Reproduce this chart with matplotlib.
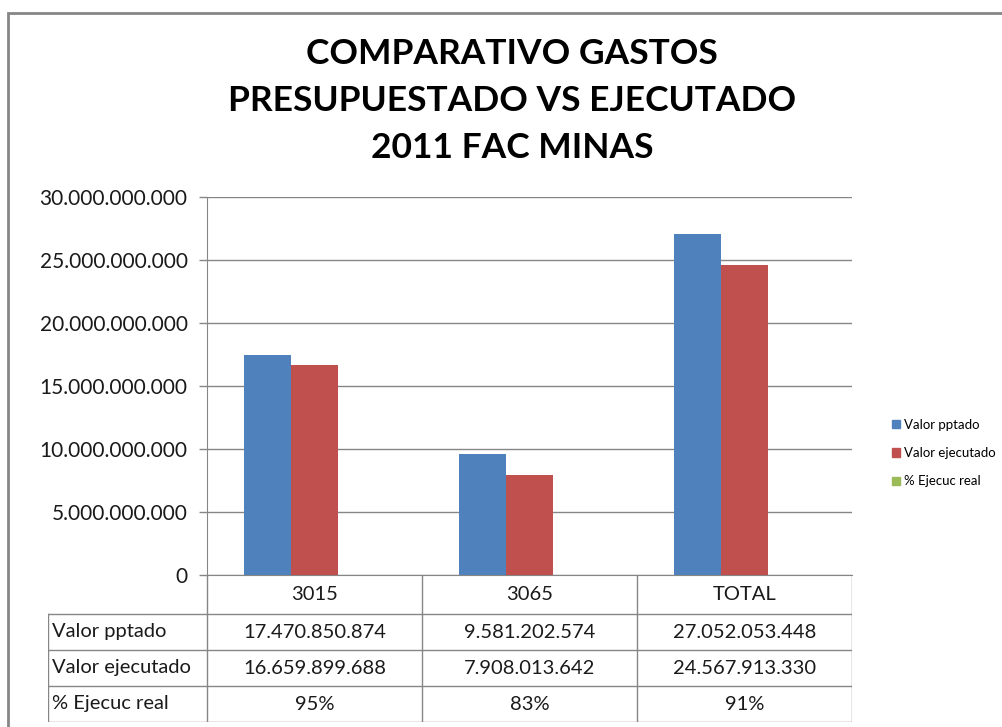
import matplotlib
matplotlib.use("Agg")
import matplotlib.pyplot as plt
from matplotlib.patches import Patch
from matplotlib.ticker import FuncFormatter, MultipleLocator

categories = ["3015", "3065", "TOTAL"]
series_names = ["Valor pptado", "Valor ejecutado", "% Ejecuc real"]
valor_pptado = [17470850874, 9581202574, 27052053448]
valor_ejecutado = [16659899688, 7908013642, 24567913330]
pct_ejecuc = [95, 83, 91]

colors = ["#4F81BD", "#C0504D", "#9BBB59"]
grid_gray = "#868686"
plt.rcParams["font.family"] = ["Lato", "DejaVu Sans"]


def dots(v, _=None):
    return f"{int(round(v)):,}".replace(",", ".")


fig = plt.figure(figsize=(10.03, 7.27), dpi=100)
W, H = 1003, 727

# outer chart frame (Excel chart area)
fig.add_artist(plt.Rectangle((8 / W, -0.05), 1.05, 1 - 13 / H + 0.05,
                             transform=fig.transFigure, fill=False,
                             edgecolor=grid_gray, linewidth=2))

ax = fig.add_axes([207 / W, 1 - 575 / H, (852 - 207) / W, (575 - 197) / H])
x = range(len(categories))
bw = 0.22
series = [valor_pptado, valor_ejecutado, [p / 100 for p in pct_ejecuc]]
for i, vals in enumerate(series):
    ax.bar([c + (i - 1) * bw for c in x], vals, width=bw, color=colors[i],
           label=series_names[i], zorder=3)

ax.set_xlim(-0.5, len(categories) - 0.5)
ax.set_ylim(0, 30e9)
ax.yaxis.set_major_locator(MultipleLocator(5e9))
ax.yaxis.set_major_formatter(FuncFormatter(dots))
ax.grid(axis="y", color=grid_gray, linewidth=1, zorder=0)
ax.set_xticks([])
for s in ["top", "right"]:
    ax.spines[s].set_visible(False)
ax.spines["left"].set_color(grid_gray)
ax.spines["bottom"].set_color(grid_gray)
ax.tick_params(axis="y", length=6, width=1, color=grid_gray, pad=8,
               labelsize=15, labelcolor="#1a1a1a")

# data table below the plot
tab = fig.add_axes([48 / W, 1 - 722 / H, (852 - 48) / W, (722 - 575) / H])
label_w = (207 - 48) / 215
tab.set_xlim(-label_w, len(categories))
row_edges = [0, 39, 75, 111, 147]
tab.set_ylim(row_edges[-1], 0)
tab.axis("off")
lw = 1
fs = 14.5
# header row (categories) -- no label cell
for j in range(len(categories) + 1):
    tab.plot([j, j], [0, row_edges[1]], color=grid_gray, lw=lw)
for j, c in enumerate(categories):
    tab.text(j + 0.5, row_edges[1] / 2, c, ha="center", va="center", fontsize=fs,
             color="#1a1a1a")
# body rows
for y in row_edges[1:]:
    tab.plot([-label_w, len(categories)], [y, y], color=grid_gray, lw=lw)
for xv in [-label_w] + list(range(len(categories) + 1)):
    tab.plot([xv, xv], [row_edges[1], row_edges[-1]], color=grid_gray, lw=lw)
rows = [[dots(v) for v in valor_pptado],
        [dots(v) for v in valor_ejecutado],
        [f"{p}%" for p in pct_ejecuc]]
for r, (name, cells) in enumerate(zip(series_names, rows)):
    yc = (row_edges[r + 1] + row_edges[r + 2]) / 2
    tab.text(-label_w + 0.02, yc, name, ha="left", va="center", fontsize=fs,
             color="#1a1a1a")
    for j, t in enumerate(cells):
        tab.text(j + 0.5, yc, t, ha="center", va="center", fontsize=fs,
                 color="#1a1a1a")

fig.text(512 / W, 1 - 101 / H,
         "COMPARATIVO GASTOS\nPRESUPUESTADO VS EJECUTADO\n2011 FAC MINAS",
         ha="center", va="center", fontsize=25.5, fontweight="bold",
         linespacing=1.57)

handles = [Patch(color=c) for c in colors]
fig.legend(handles, series_names, loc="center left",
           bbox_to_anchor=(880 / W, 1 - 453 / H), frameon=False, fontsize=9.5,
           handlelength=0.6, handleheight=0.6, handletextpad=0.3,
           labelspacing=1.25)

fig.savefig("out.png", dpi=100)
